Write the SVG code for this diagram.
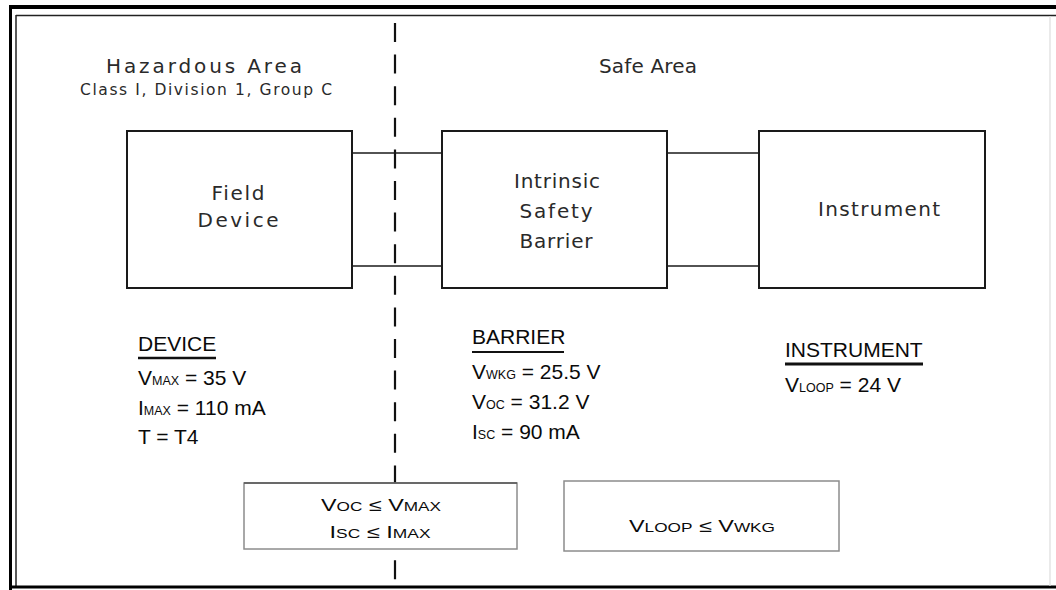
<svg xmlns="http://www.w3.org/2000/svg" width="1056" height="590" viewBox="0 0 1056 590">
<style>
.box{fill:#fff;stroke:#1a1a1a;stroke-width:2}
.cbox{fill:#fff;stroke:#8c8c8c;stroke-width:1.5}
.wire{stroke:#1a1a1a;stroke-width:1.6;fill:none}
.g{font-family:"DejaVu Sans","Liberation Sans",sans-serif;fill:#2a2a2a;text-anchor:middle}
.d{font-family:"Liberation Sans",Arial,sans-serif;fill:#0a0a0a;font-size:21px}
.s{font-size:12.5px}
.c{font-family:"Liberation Sans",Arial,sans-serif;fill:#0a0a0a;font-size:17px;text-anchor:middle}
.cs{font-size:12.5px}
.ul{stroke:#111;fill:none}
</style>
<rect width="1056" height="590" fill="#fff"/>
<g id="frame">
<line x1="9" y1="7" x2="1056" y2="7" stroke="#000" stroke-width="4"/>
<line x1="10.5" y1="5" x2="10.5" y2="590" stroke="#000" stroke-width="3"/>
<line x1="16" y1="15.5" x2="1056" y2="15.5" stroke="#222" stroke-width="1.5"/>
<line x1="16" y1="15" x2="16" y2="588" stroke="#222" stroke-width="1.5"/>
<line x1="9" y1="587" x2="1056" y2="587" stroke="#000" stroke-width="3"/>
<line x1="1050" y1="16" x2="1050" y2="586" stroke="#ddd" stroke-width="1.2"/>
</g>
<g id="boundary">
<line x1="395" y1="23" x2="395" y2="580" stroke="#111" stroke-width="2.2" stroke-dasharray="19 12.6"/>
</g>
<g id="area-labels">
<text class="g" x="204" y="73" font-size="20" textLength="196" lengthAdjust="spacing">Hazardous Area</text>
<text class="g" x="206" y="95" font-size="15.5" textLength="252" lengthAdjust="spacing">Class I, Division 1, Group C</text>
<text class="g" x="648" y="73" font-size="20" textLength="98" lengthAdjust="spacing">Safe Area</text>
</g>
<g id="connectors">
<line class="wire" x1="352" y1="153" x2="442" y2="153"/>
<line class="wire" x1="352" y1="266" x2="442" y2="266"/>
<line class="wire" x1="667" y1="153" x2="759" y2="153"/>
<line class="wire" x1="667" y1="266" x2="759" y2="266"/>
</g>
<g id="field-device">
<rect class="box" x="127" y="131" width="225" height="157"/>
<text class="g" x="238" y="200" font-size="20" textLength="53" lengthAdjust="spacing">Field</text>
<text class="g" x="238" y="227" font-size="20" textLength="81" lengthAdjust="spacing">Device</text>
</g>
<g id="barrier">
<rect class="box" x="442" y="131" width="225" height="157"/>
<text class="g" x="557" y="188" font-size="20" textLength="86" lengthAdjust="spacing">Intrinsic</text>
<text class="g" x="556" y="218" font-size="20" textLength="73" lengthAdjust="spacing">Safety</text>
<text class="g" x="556" y="248" font-size="20" textLength="73" lengthAdjust="spacing">Barrier</text>
</g>
<g id="instrument">
<rect class="box" x="759" y="131" width="226" height="157"/>
<text class="g" x="879" y="216" font-size="20" textLength="122" lengthAdjust="spacing">Instrument</text>
</g>
<g id="device-data">
<text class="d" x="138" y="351">DEVICE</text>
<line class="ul" x1="138" y1="358" x2="216" y2="358" stroke-width="2.5"/>
<text class="d" x="138" y="385">V<tspan class="s">MAX</tspan> = 35 V</text>
<text class="d" x="138" y="415">I<tspan class="s">MAX</tspan> = 110 mA</text>
<text class="d" x="138" y="444">T = T4</text>
</g>
<g id="barrier-data">
<text class="d" x="472" y="344">BARRIER</text>
<line class="ul" x1="472" y1="352" x2="564" y2="352" stroke-width="2"/>
<text class="d" x="472" y="379">V<tspan class="s">WKG</tspan> = 25.5 V</text>
<text class="d" x="472" y="409">V<tspan class="s">OC</tspan> = 31.2 V</text>
<text class="d" x="472" y="439">I<tspan class="s">SC</tspan> = 90 mA</text>
</g>
<g id="instrument-data">
<text class="d" x="785" y="357">INSTRUMENT</text>
<line class="ul" x1="785" y1="364" x2="923" y2="364" stroke-width="3"/>
<text class="d" x="785" y="392">V<tspan class="s">LOOP</tspan> = 24 V</text>
</g>
<g id="condition-device">
<rect class="cbox" x="244" y="483" width="273" height="66"/>
<line x1="244" y1="483" x2="517" y2="483" stroke="#555" stroke-width="1.5"/>
<text class="c" x="381" y="511" textLength="120" lengthAdjust="spacingAndGlyphs">V<tspan class="cs">OC</tspan> ≤ V<tspan class="cs">MAX</tspan></text>
<text class="c" x="380" y="538" textLength="101" lengthAdjust="spacingAndGlyphs">I<tspan class="cs">SC</tspan> ≤ I<tspan class="cs">MAX</tspan></text>
</g>
<g id="condition-instrument">
<rect class="cbox" x="564" y="481" width="275" height="70"/>
<text class="c" x="702" y="532" textLength="146" lengthAdjust="spacingAndGlyphs">V<tspan class="cs">LOOP</tspan> ≤ V<tspan class="cs">WKG</tspan></text>
</g>
</svg>
